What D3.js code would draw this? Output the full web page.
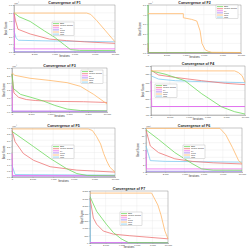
<!DOCTYPE html>
<html><head><meta charset="utf-8">
<script src="https://cdn.jsdelivr.net/npm/d3@7"></script>
<style>body{margin:0;background:#fff}svg{display:block}text{font-family:"Liberation Sans",Arial,sans-serif}</style>
</head><body><svg id="c" width="250" height="250"></svg>
<script>
// ---- data ----
const seriesNames = ["BBO", "Cuckoo Search", "GA", "GWO", "Orca", "PSO"];
const iterTicks = [0, 2000, 4000, 6000, 8000, 10000];
const titles = ["Convergence of F1","Convergence of F2","Convergence of F3","Convergence of F4","Convergence of F5","Convergence of F6","Convergence of F7"];
const multipliers = ["×10⁴","×10⁴","×10⁴","","×10⁴","×10³",""];
const yDomains = [[0,6],[0,5],[0,3],[400,700],[0,4],[0,12],[0,3500]];
const yTicks = [[0,1,2,3,4,5,6],[0,1,2,3,4,5],[0,0.5,1,1.5,2,2.5,3],[400,450,500,550,600,650,700],[0,0.5,1,1.5,2,2.5,3,3.5,4],[0,2,4,6,8,10,12],[0,500,1000,1500,2000,2500,3000,3500]];

// series order: BBO, Cuckoo Search, GA, GWO, Orca, PSO
const f1Values = [
  [[0,5.0],[500,4.5],[1600,3.9],[3000,2.7],[4000,1.9],[5000,0.9],[5600,0.3],[6500,0.2],[10000,0.18]],
  [[0,5.0],[150,4.0],[400,2.9],[1600,2.3],[3500,1.65],[5200,1.45],[7000,1.3],[10000,1.1]],
  [[0,5.0],[60,0.4],[10000,0.4]],
  [[0,0.6],[50,0.03],[10000,0.03]],
  [[0,4.97],[7200,4.97],[7600,4.8],[8200,4.0],[9000,2.8],[9600,1.9],[10000,1.3]],
  [[0,2.7],[200,1.8],[450,1.5],[2000,1.45],[5000,1.38],[10000,1.3]]
];
const f2Values = [
  [[0,5.0],[30,0.03],[10000,0.03]],
  [[0,1.0],[40,0.03],[10000,0.03]],
  [[0,0.5],[30,0.03],[10000,0.03]],
  [[0,0.2],[30,0.02],[10000,0.02]],
  [[0,4.1],[3800,4.1],[3800,3.67],[4700,3.5],[5250,3.33],[5600,2.3],[5800,1.0],[6150,0.33],[6500,0.17],[6850,0.07],[10000,0.05]],
  [[0,0.03],[10000,0.03]]
];
const f3Values = [
  [[0,2.6],[150,1.6],[900,1.2],[2000,1.0],[3300,0.75],[4500,0.45],[5800,0.2],[7200,0.1],[10000,0.08]],
  [[0,2.6],[200,1.3],[700,1.0],[1500,0.85],[2500,0.78],[5000,0.72],[7500,0.7],[10000,0.65]],
  [[0,1.8],[50,0.06],[10000,0.06]],
  [[0,0.1],[50,0.03],[10000,0.03]],
  [[0,2.67],[300,2.5],[1900,2.3],[4000,2.15],[5800,2.0],[7200,1.75],[8600,1.2],[10000,0.55]],
  [[0,0.3],[50,0.05],[10000,0.05]]
];
const f4Values = [
  [[0,670],[1500,650],[3600,610],[5400,530],[7500,450],[8900,420],[10000,406]],
  [[0,674],[800,645],[2600,630],[5400,610],[7900,594],[10000,586]],
  [[0,610],[80,452],[10000,452]],
  [[0,452],[10000,452]],
  [[0,670],[8900,670],[9300,660],[9700,640],[10000,600]],
  [[0,640],[800,620],[2600,610],[5400,604],[10000,598]]
];
const f5Values = [
  [[0,3.72],[2100,2.48],[3700,1.52],[5300,0.68],[6300,0.28],[7300,0.12],[10000,0.1]],
  [[0,3.8],[300,2.88],[1100,1.92],[2100,1.36],[3700,0.84],[6300,0.56],[10000,0.4]],
  [[0,1.92],[60,0.12],[10000,0.1]],
  [[0,0.08],[10000,0.08]],
  [[0,3.92],[7400,3.92],[7800,3.8],[8200,3.32],[8600,2.7],[8900,1.92],[9200,1.3],[9500,0.8],[10000,0.4]],
  [[0,0.96],[300,0.2],[10000,0.15]]
];
const f6Values = [
  [[0,11.5],[1300,8.9],[3000,5.3],[4800,2.3],[5800,0.84],[7000,0.5],[10000,0.48]],
  [[0,11.5],[450,7.1],[1300,5.3],[3000,3.6],[4800,2.9],[7000,2.5],[10000,2.2]],
  [[0,6],[50,0.84],[10000,0.84]],
  [[0,0.2],[10000,0.2]],
  [[0,11.9],[7700,11.9],[8300,10.2],[9000,6.7],[9650,3.1],[10000,2.3]],
  [[0,7.1],[450,3.1],[2000,2.9],[10000,2.7]]
];
const f7Values = [
  [[0,3115],[850,2135],[2100,1260],[3000,700],[4000,280],[4900,35],[10000,20]],
  [[0,3010],[430,1680],[850,1260],[1700,805],[3000,595],[5100,490],[10000,280]],
  [[0,30],[10000,30]],
  [[0,20],[10000,20]],
  [[0,3360],[7900,3360],[8700,2555],[9100,1890],[9600,805],[10000,280]],
  [[0,3000],[40,30],[10000,30]]
];
const allValues = [f1Values,f2Values,f3Values,f4Values,f5Values,f6Values,f7Values];

// ---- layout & style ----
const seriesColors = ["#6fd95e","#ee7575","#ee6cee","#9a80f0","#ffb86a","#80caf0"];
const drawOrder = [3,5,2,1,0,4];
const boxes = [
  {x0:14,x1:115,y0:5,y1:52, lg:[52,22]},
  {x0:148,x1:241,y0:5,y1:53, lg:[216,5]},
  {x0:12,x1:107,y0:68,y1:112, lg:[81,70]},
  {x0:151,x1:245,y0:66,y1:115, lg:[155,84]},
  {x0:12,x1:115,y0:128,y1:177, lg:[52,145]},
  {x0:146,x1:242,y0:128,y1:172, lg:[183,145]},
  {x0:90,x1:168,y0:191,y1:243, lg:[120,212]}
];

const svg = d3.select("#c");
boxes.forEach((b,i)=>{
  const g = svg.append("g");
  const x = d3.scaleLinear().domain([0,10000]).range([b.x0,b.x1]);
  const y = d3.scaleLinear().domain(yDomains[i]).range([b.y1,b.y0]);
  // grid
  g.append("g").selectAll("line").data(iterTicks).join("line")
    .attr("x1",d=>x(d)).attr("x2",d=>x(d)).attr("y1",b.y0).attr("y2",b.y1)
    .attr("stroke","#e4e4e4").attr("stroke-width",0.35);
  g.append("g").selectAll("line").data(yTicks[i]).join("line")
    .attr("x1",b.x0).attr("x2",b.x1).attr("y1",d=>y(d)).attr("y2",d=>y(d))
    .attr("stroke","#e4e4e4").attr("stroke-width",0.35);
  // axes
  const ax = g.append("g").attr("transform",`translate(0,${b.y1})`)
    .call(d3.axisBottom(x).tickValues(iterTicks).tickSize(0.8).tickPadding(0.8));
  const ay = g.append("g").attr("transform",`translate(${b.x0},0)`)
    .call(d3.axisLeft(y).tickValues(yTicks[i]).tickSize(0.8).tickPadding(0.8));
  [ax,ay].forEach(a=>{
    a.selectAll("path,line").attr("stroke","#777").attr("stroke-width",0.35);
    a.selectAll("text").attr("font-size",2.4).attr("fill","#444");
  });
  g.append("rect").attr("x",b.x0).attr("y",b.y0).attr("width",b.x1-b.x0).attr("height",b.y1-b.y0)
    .attr("fill","none").attr("stroke","#777").attr("stroke-width",0.35);
  // lines
  const line = d3.line().x(d=>x(d[0])).y(d=>y(d[1]));
  drawOrder.forEach(s=>{
    g.append("path").datum(allValues[i][s]).attr("d",line)
      .attr("fill","none").attr("stroke",seriesColors[s]).attr("stroke-width",0.8);
  });
  // texts
  g.append("text").attr("x",(b.x0+b.x1)/2).attr("y",b.y0-0.8).attr("text-anchor","middle")
    .attr("font-size",3.6).attr("font-weight","bold").attr("fill","#222").text(titles[i]);
  g.append("text").attr("x",(b.x0+b.x1)/2).attr("y",b.y1+5).attr("text-anchor","middle")
    .attr("font-size",2.6).attr("fill","#333").text("Iterations");
  g.append("text").attr("transform",`translate(${b.x0-7},${(b.y0+b.y1)/2}) rotate(-90)`)
    .attr("text-anchor","middle").attr("font-size",2.8).attr("fill","#333").text("Best Score");
  if (multipliers[i]) g.append("text").attr("x",b.x0).attr("y",b.y0-0.6)
    .attr("font-size",2.3).attr("fill","#444").text(multipliers[i]);
  // legend
  const lg = g.append("g").attr("transform",`translate(${b.lg[0]},${b.lg[1]})`);
  lg.append("rect").attr("width",22).attr("height",seriesNames.length*2.1+1.2)
    .attr("fill","#fff").attr("stroke","#999").attr("stroke-width",0.3);
  seriesNames.forEach((n,s)=>{
    const yy = 1.6+s*2.1;
    lg.append("line").attr("x1",1).attr("x2",7).attr("y1",yy).attr("y2",yy)
      .attr("stroke",seriesColors[s]).attr("stroke-width",0.8);
    lg.append("text").attr("x",8).attr("y",yy+0.7).attr("font-size",1.9).attr("fill","#333").text(n);
  });
});
</script></body></html>
